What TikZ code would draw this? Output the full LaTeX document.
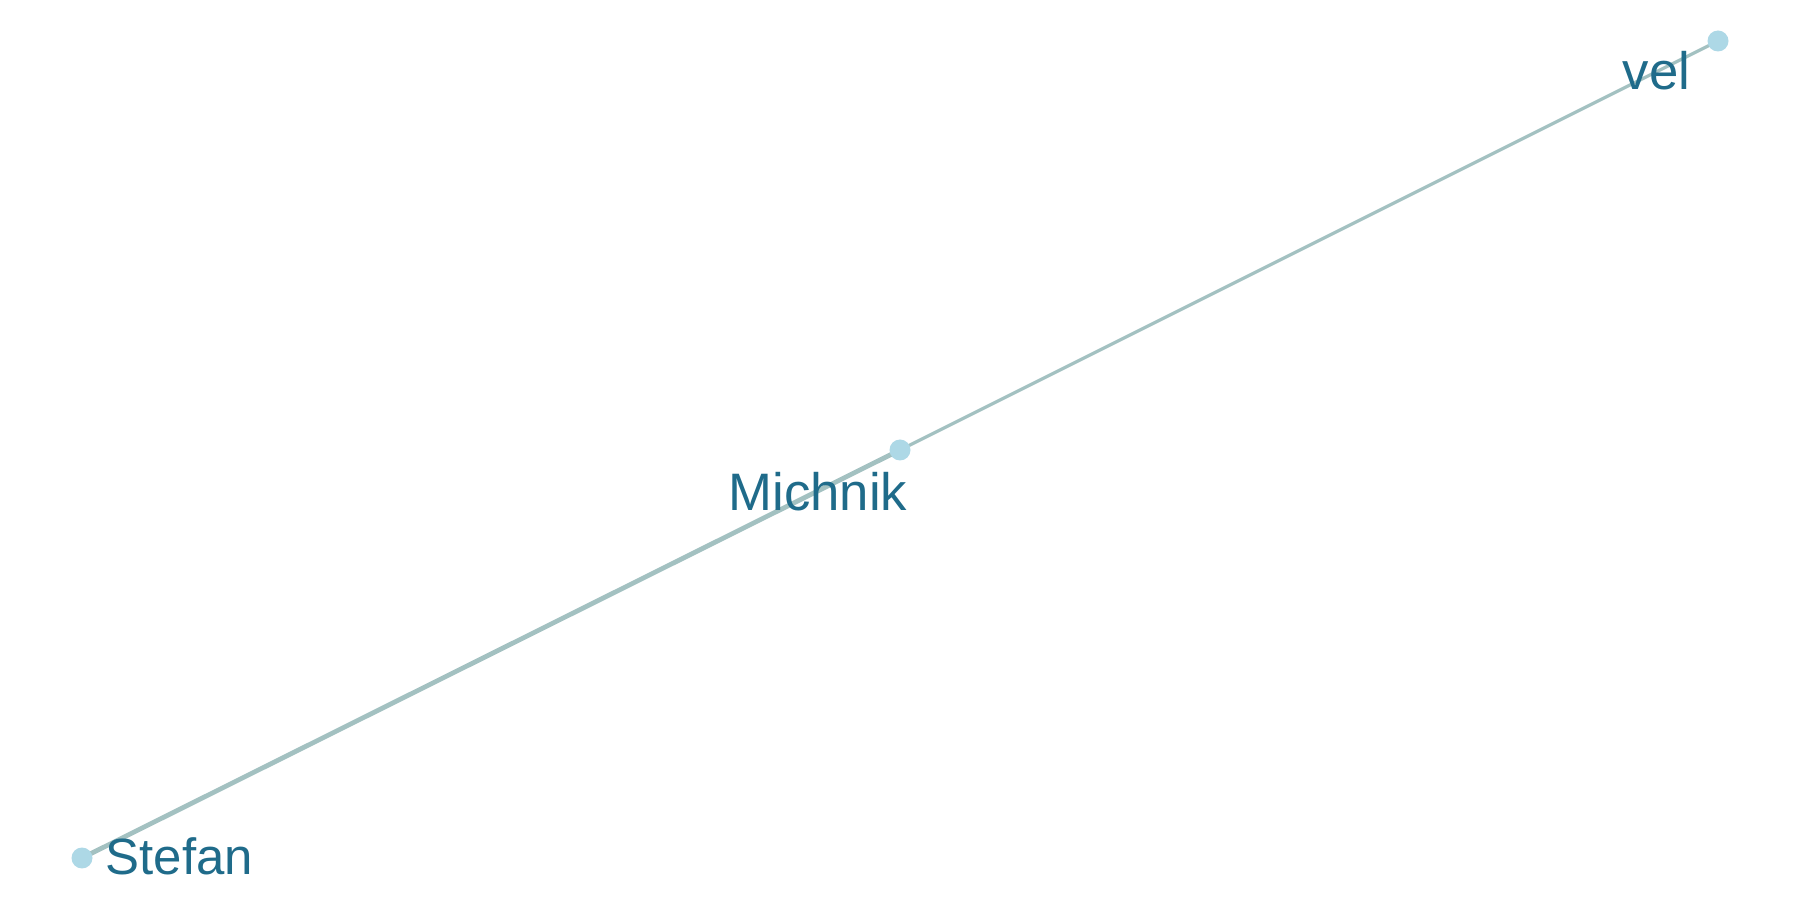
\documentclass[tikz,border=0pt]{standalone}
\usepackage{fontspec}
\setmainfont{Liberation Sans}
\definecolor{nodeblue}{HTML}{ADD8E6}
\definecolor{labelblue}{HTML}{1F6B8A}
\definecolor{edgegray}{HTML}{A3C1C1}
\begin{document}
\begin{tikzpicture}[line join = round, line cap = round]
	\useasboundingbox (0,0) rectangle (18,9);
	\coordinate (S) at (0.82,0.42);
	\coordinate (M) at (9.00,4.50);
	\coordinate (V) at (17.18,8.59);
	\draw[edgegray, line width=1.35pt] (S)--(M);
	\draw[edgegray, line width=0.95pt] (M)--(V);
	\foreach \p in {S,M,V} \fill[nodeblue] (\p) circle(0.105);
	\node[labelblue, inner sep=0, anchor=base west, font=\fontsize{14.5}{16}\selectfont] (Stefan) at (1.05,0.25) {Stefan};
	\node[labelblue, inner sep=0, anchor=base, font=\fontsize{15}{17}\selectfont] (Michnik) at (8.18,3.90) {Michnik};
	\node[labelblue, inner sep=0, anchor=base east, font=\fontsize{15}{17}\selectfont] (vel) at (16.91,8.10) {vel};
\end{tikzpicture}
\end{document}
